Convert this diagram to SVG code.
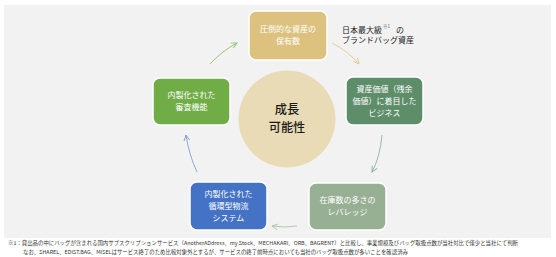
<svg xmlns="http://www.w3.org/2000/svg" width="556" height="257" viewBox="0 0 556 257">
<style>
.box{stroke:#ffffff;stroke-width:1.5}
.nt{font-family:"Noto Sans CJK JP","Noto Sans",sans-serif;font-size:8px;fill:#ffffff;text-anchor:middle}
.ct{font-family:"Noto Sans CJK JP","Noto Sans",sans-serif;font-size:12.2px;font-weight:500;fill:#1a1a1a;text-anchor:middle}
.an{font-family:"Noto Sans CJK JP","Noto Sans",sans-serif;font-size:8px;fill:#222222}
.sup{font-family:"Noto Sans CJK JP","Noto Sans",sans-serif;font-size:4.5px;fill:#555555}
.fn{font-family:"Noto Sans CJK JP","Noto Sans",sans-serif;font-size:5.3px;fill:#333333}
.arr{fill:none;stroke-width:0.9}
</style>
<defs>
<marker id="mGreen" viewBox="0 0 10 10" refX="9" refY="5" markerWidth="7" markerHeight="7" orient="auto" markerUnits="userSpaceOnUse"><path d="M1,1 L9,5 L1,9" fill="none" stroke="#8fbf6c" stroke-width="1.3"/></marker>
<marker id="mGold" viewBox="0 0 10 10" refX="9" refY="5" markerWidth="7" markerHeight="7" orient="auto" markerUnits="userSpaceOnUse"><path d="M1,1 L9,5 L1,9" fill="none" stroke="#e2c98a" stroke-width="1.3"/></marker>
<marker id="mDG" viewBox="0 0 10 10" refX="9" refY="5" markerWidth="7" markerHeight="7" orient="auto" markerUnits="userSpaceOnUse"><path d="M1,1 L9,5 L1,9" fill="none" stroke="#8db39a" stroke-width="1.3"/></marker>
<marker id="mLG" viewBox="0 0 10 10" refX="9" refY="5" markerWidth="7" markerHeight="7" orient="auto" markerUnits="userSpaceOnUse"><path d="M1,1 L9,5 L1,9" fill="none" stroke="#a9c6a2" stroke-width="1.3"/></marker>
<marker id="mBlue" viewBox="0 0 10 10" refX="9" refY="5" markerWidth="7" markerHeight="7" orient="auto" markerUnits="userSpaceOnUse"><path d="M1,1 L9,5 L1,9" fill="none" stroke="#7f9fd8" stroke-width="1.3"/></marker>
</defs>
<rect x="0" y="0" width="556" height="257" fill="#ffffff"/>
<rect x="4" y="5" width="547" height="233" fill="#f2f2f2"/>

<g id="connectors">
<path class="arr" d="M210,64 Q222,51 237,43" stroke="#8fbf6c" marker-end="url(#mGreen)"/>
<path class="arr" d="M332,43 Q348,51 359,64" stroke="#e2c98a" marker-end="url(#mGold)"/>
<path class="arr" d="M382,135 Q380,157 372,172" stroke="#8db39a" marker-end="url(#mDG)"/>
<path class="arr" d="M297,226 Q285,228 272,226" stroke="#a9c6a2" marker-end="url(#mLG)"/>
<path class="arr" d="M197,172 Q189,155 186,135" stroke="#7f9fd8" marker-end="url(#mBlue)"/>
</g>

<g id="center">
<circle cx="287" cy="119" r="48.5" fill="#e8dbb5"/>
<text class="ct" x="287" y="113.5">成長</text>
<text class="ct" x="287" y="131.5">可能性</text>
</g>

<g id="node-top">
<rect class="box" x="249" y="11" width="78" height="49" rx="7" fill="#dcc27e"/>
<text class="nt" x="288" y="32">圧倒的な資産の</text>
<text class="nt" x="288" y="44">保有数</text>
</g>

<g id="note-top">
<text class="an" x="342" y="32.5">日本最大級</text>
<text class="sup" x="383" y="28">※1</text>
<text class="an" x="396" y="32.5">の</text>
<text class="an" x="342" y="43">ブランドバッグ資産</text>
</g>

<g id="node-right">
<rect class="box" x="346" y="77" width="77" height="48" rx="7" fill="#5e8d6a"/>
<text class="nt" x="384.5" y="92">資産価値（残余</text>
<text class="nt" x="384.5" y="104">価値）に着目した</text>
<text class="nt" x="384.5" y="116">ビジネス</text>
</g>

<g id="node-bottom-right">
<rect class="box" x="309" y="183" width="77" height="47" rx="7" fill="#97b093"/>
<text class="nt" x="347.5" y="203">在庫数の多さの</text>
<text class="nt" x="347.5" y="215">レバレッジ</text>
</g>

<g id="node-bottom-left">
<rect class="box" x="190" y="182" width="77" height="48" rx="7" fill="#4472c4"/>
<text class="nt" x="228.5" y="197">内製化された</text>
<text class="nt" x="228.5" y="209">循環型物流</text>
<text class="nt" x="228.5" y="221">システム</text>
</g>

<g id="node-left">
<rect class="box" x="153" y="78" width="77" height="47" rx="7" fill="#70ad47"/>
<text class="nt" x="191.5" y="98">内製化された</text>
<text class="nt" x="191.5" y="110">審査機能</text>
</g>

<g id="footnote">
<text class="fn" x="8" y="245" textLength="510" lengthAdjust="spacingAndGlyphs">※1：貸出品の中にバッグが含まれる国内サブスクリプションサービス（AnotherADdress、my Stock、MECHAKARI、ORB、BAGRENT）と比較し、事業規模及びバッグ取扱点数が当社対比で僅少と当社にて判断</text>
<text class="fn" x="23" y="254" textLength="385" lengthAdjust="spacingAndGlyphs">なお、SHAREL、EDIST.BAG、MISELはサービス終了のため比較対象外とするが、サービスの終了前時点においても当社のバッグ取扱点数が多いことを確認済み</text>
</g>
</svg>
